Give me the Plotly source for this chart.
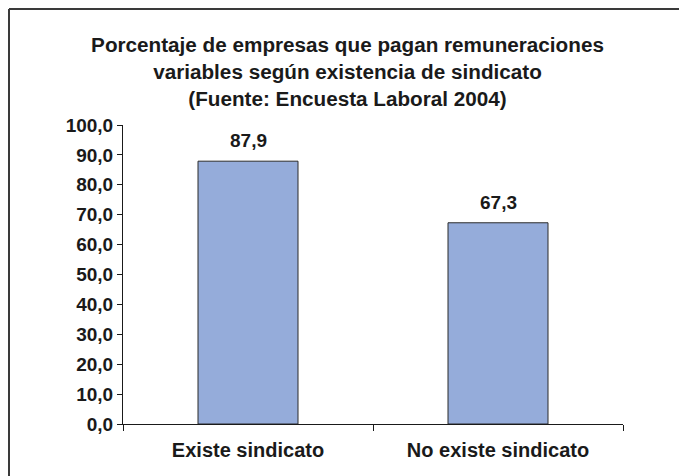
import plotly.graph_objects as go

# Data
categorias = ['Existe sindicato', 'No existe sindicato']
porcentajes = [87.9, 67.3]
ticks_y = [0, 10, 20, 30, 40, 50, 60, 70, 80, 90, 100]

fuente = 'Liberation Sans, Arial, sans-serif'

# the page adds 8px around the plot, so the figure is 8px smaller
ML, MT, PW, PH = 115, 117, 500, 299

fig = go.Figure()
fig.add_trace(go.Bar(x = categorias, y = porcentajes,
                     marker = dict(color = '#95acda',
                                   line = dict(color = '#2b2b2b', width = 1)),
                     width = 0.4)
              )

# Bar value labels
for cat, val in zip(categorias, porcentajes):
    fig.add_annotation(x = cat, y = val, text = f'{val:.1f}'.replace('.', ','),
                       showarrow = False, yanchor = 'bottom', yshift = 8,
                       font = dict(family = fuente, size = 19, color = '#1a1a1a',
                                   weight = 'bold'))

# Border (top and left edge visible)
bx = (-ML + 1) / PW
by = 1 + (MT - 1) / PH
fig.add_shape(type = 'line', xref = 'paper', yref = 'paper',
              x0 = bx, x1 = 1.2, y0 = by, y1 = by,
              line = dict(color = '#3a3a3a', width = 2))
fig.add_shape(type = 'line', xref = 'paper', yref = 'paper',
              x0 = bx, x1 = bx, y0 = -0.3, y1 = by,
              line = dict(color = '#3a3a3a', width = 2))

fig.update_layout(
    width = 679, height = 468,
    margin = dict(l = ML, r = 64, t = MT, b = 52),
    paper_bgcolor = 'white', plot_bgcolor = 'white',
    separators = ',.',
    showlegend = False,
    title = dict(text = 'Porcentaje de empresas que pagan remuneraciones<br>'
                        'variables según existencia de sindicato<br>'
                        '(Fuente: Encuesta Laboral 2004)',
                 x = 0.5, xanchor = 'center', y = 0.906, yanchor = 'middle',
                 font = dict(family = fuente, size = 20.7, color = '#1a1a1a',
                             weight = 'bold')),
    font = dict(family = fuente, color = '#1a1a1a'),
)

fig.update_xaxes(showline = True, linecolor = '#1a1a1a', linewidth = 1,
                 ticks = 'outside', tickson = 'boundaries', ticklen = 6,
                 tickcolor = '#1a1a1a', showgrid = False, ticklabelstandoff = 8,
                 tickfont = dict(family = fuente, size = 20, weight = 'bold'))
fig.update_yaxes(range = [0, 100], tickvals = ticks_y, tickformat = '.1f',
                 showline = True, linecolor = '#1a1a1a', linewidth = 1,
                 ticks = 'outside', ticklen = 5, tickcolor = '#1a1a1a',
                 showgrid = False, zeroline = False,
                 tickfont = dict(family = fuente, size = 19, weight = 'bold'))

fig.write_html("out.html")
